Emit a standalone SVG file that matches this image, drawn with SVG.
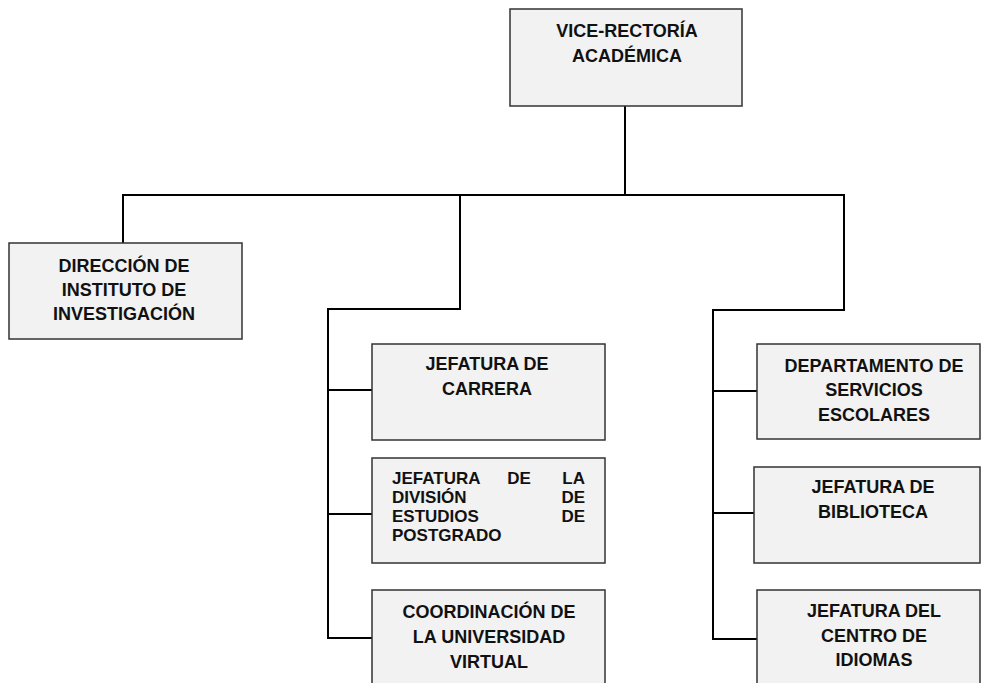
<svg xmlns="http://www.w3.org/2000/svg" width="981" height="683" viewBox="0 0 981 683">
<style>
.box{fill:#f2f2f2;stroke:#333;stroke-width:1.5}
.t{font-family:"Liberation Sans",Arial,sans-serif;font-weight:bold;font-size:18px;fill:#111;text-anchor:middle}
.j{font-family:"Liberation Sans",Arial,sans-serif;font-weight:bold;font-size:17px;fill:#111}
.c{fill:none;stroke:#000;stroke-width:2}
</style>
<rect width="981" height="683" fill="#fff"/>
<g id="connectors">
<path class="c" d="M625 106V195"/>
<path class="c" d="M123 243V195H844V310H713V639H757"/>
<path class="c" d="M713 391H757M713 513H754"/>
<path class="c" d="M460 195V309H328V638H372"/>
<path class="c" d="M328 390H372M328 514H372"/>
</g>
<g id="vice">
<rect class="box" x="510" y="9" width="232" height="97"/>
<text class="t" x="627" y="37">VICE-RECTORÍA</text>
<text class="t" x="627" y="62">ACADÉMICA</text>
</g>
<g id="direccion">
<rect class="box" x="9" y="243" width="233" height="96"/>
<text class="t" x="124" y="272">DIRECCIÓN DE</text>
<text class="t" x="124" y="296">INSTITUTO DE</text>
<text class="t" x="124" y="320">INVESTIGACIÓN</text>
</g>
<g id="carrera">
<rect class="box" x="372" y="344" width="233" height="96"/>
<text class="t" x="487" y="370">JEFATURA DE</text>
<text class="t" x="487" y="395">CARRERA</text>
</g>
<g id="postgrado">
<rect class="box" x="372" y="458" width="233" height="105"/>
<text class="j" x="392" y="484">JEFATURA</text>
<text class="j" x="519" y="484" text-anchor="middle">DE</text>
<text class="j" x="585" y="484" text-anchor="end">LA</text>
<text class="j" x="392" y="503">DIVISIÓN</text>
<text class="j" x="585" y="503" text-anchor="end">DE</text>
<text class="j" x="392" y="522">ESTUDIOS</text>
<text class="j" x="585" y="522" text-anchor="end">DE</text>
<text class="j" x="392" y="541">POSTGRADO</text>
</g>
<g id="coordinacion">
<rect class="box" x="372" y="590" width="233" height="110"/>
<text class="t" x="489" y="618">COORDINACIÓN DE</text>
<text class="t" x="489" y="643">LA UNIVERSIDAD</text>
<text class="t" x="489" y="668">VIRTUAL</text>
</g>
<g id="escolares">
<rect class="box" x="757" y="344" width="223" height="95"/>
<text class="t" x="874" y="372">DEPARTAMENTO DE</text>
<text class="t" x="874" y="396">SERVICIOS</text>
<text class="t" x="874" y="421">ESCOLARES</text>
</g>
<g id="biblioteca">
<rect class="box" x="754" y="467" width="226" height="96"/>
<text class="t" x="873" y="493">JEFATURA DE</text>
<text class="t" x="873" y="518">BIBLIOTECA</text>
</g>
<g id="idiomas">
<rect class="box" x="757" y="590" width="223" height="110"/>
<text class="t" x="874" y="617">JEFATURA DEL</text>
<text class="t" x="874" y="642">CENTRO DE</text>
<text class="t" x="874" y="666">IDIOMAS</text>
</g>
</svg>
